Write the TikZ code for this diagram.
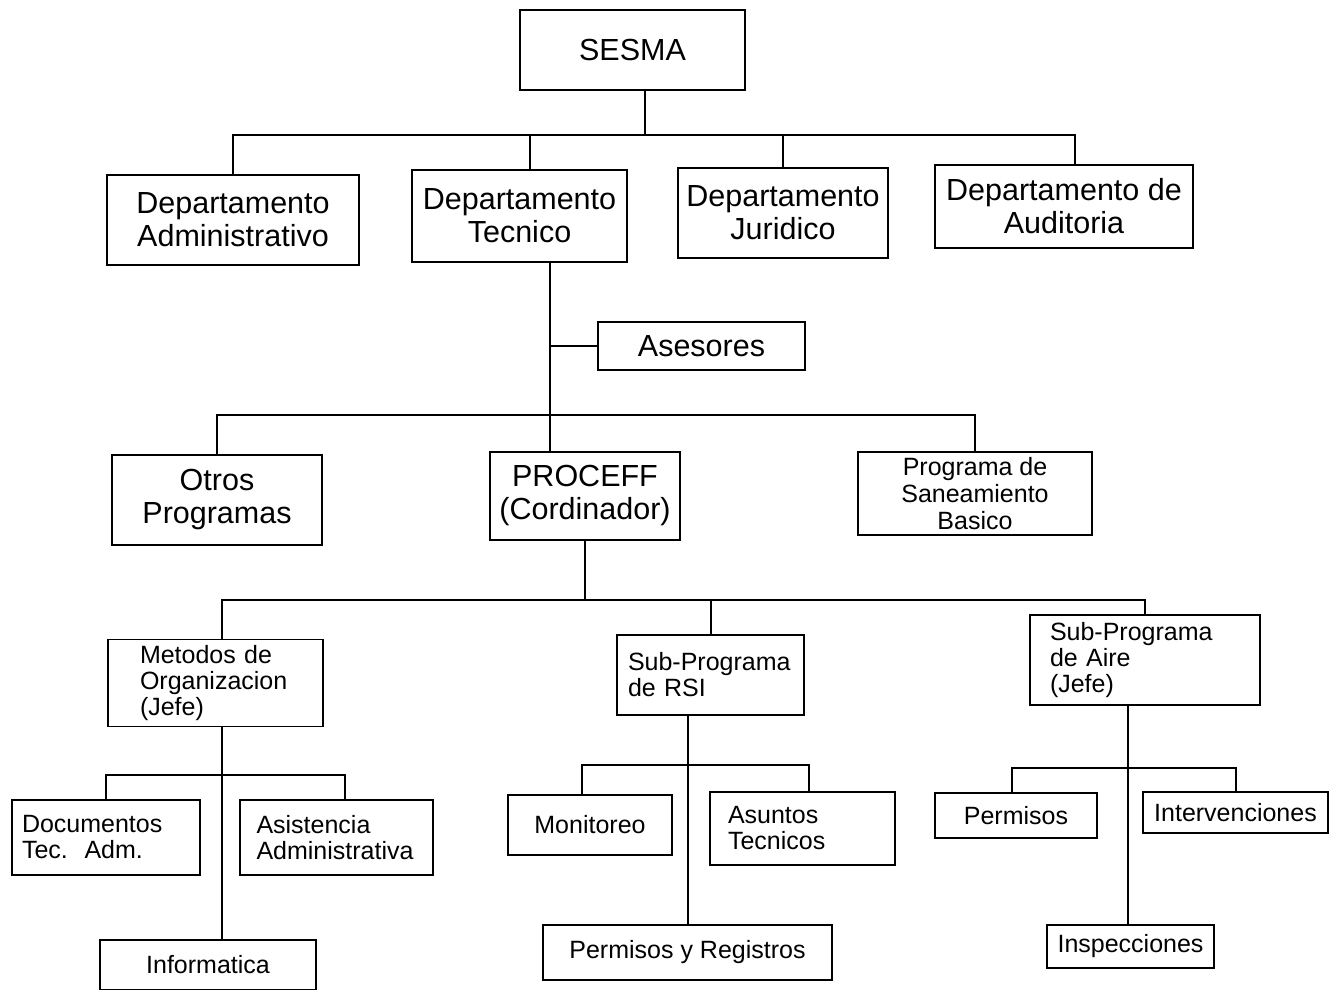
\documentclass[tikz,border=0pt]{standalone}
\usepackage{fontspec}
\setmainfont{Liberation Sans}
\usetikzlibrary{calc}
\begin{document}
\begin{tikzpicture}[x=1pt,y=-1pt,
  box/.style={draw, line width=1.6pt, inner sep=0pt, align=center},
  big/.style={font=\fontsize{30.5}{33}\selectfont},
  mid/.style={font=\fontsize{25}{27}\selectfont},
  small/.style={font=\fontsize{25}{26}\selectfont},
  conn/.style={line width=2pt}]
\useasboundingbox (0,0) rectangle (1338,990);
\fill[white] (0,0) rectangle (1338,990);
% level 0
\node[box,big,minimum width=225pt,minimum height=80pt] (sesma) at (632.5,50) {SESMA};
% level 1
\node[box,big,minimum width=252pt,minimum height=90pt] (adm) at (233,220) {Departamento\\Administrativo};
\node[box,big,minimum width=215pt,minimum height=92pt] (tec) at (519.5,216) {Departamento\\Tecnico};
\node[box,big,minimum width=210pt,minimum height=90pt] (jur) at (783,213) {Departamento\\Juridico};
\node[box,big,minimum width=258pt,minimum height=83pt] (aud) at (1064,206.5) {Departamento de\\Auditoria};
% asesores
\node[box,big,minimum width=207pt,minimum height=48pt] (ase) at (701.5,346) {Asesores};
% level 2
\node[box,big,minimum width=210pt,minimum height=90pt] (otros) at (217,500) {Otros\\Programas};
\node[box,big,minimum width=190pt,minimum height=88pt] (proc) at (585,496) {PROCEFF\\(Cordinador)};
\node[box,mid,minimum width=234pt,minimum height=83pt] (san) at (975,493.5) {Programa de\\Saneamiento\\Basico};
% level 3
\node[box,small,align=left,text width=151pt,minimum width=215pt,minimum height=87pt] (met) at (215.5,683) {Metodos de\\Organizacion\\(Jefe)};
\node[box,small,align=left,text width=165pt,minimum width=187pt,minimum height=80pt] (rsi) at (710.5,675) {Sub-Programa\\de RSI};
\node[box,small,align=left,text width=190pt,minimum width=230pt,minimum height=90pt] (aire) at (1145,660) {Sub-Programa\\de Aire\\(Jefe)};
% level 4
\node[box,small,align=left,text width=168pt,minimum width=188pt,minimum height=75pt] (doc) at (106,837.5) {Documentos\\Tec.\ \ Adm.};
\node[box,small,align=left,text width=160pt,minimum width=193pt,minimum height=75pt] (asi) at (336.5,837.5) {Asistencia\\Administrativa};
\node[box,small,minimum width=216pt,minimum height=50pt] (inf) at (208,965) {Informatica};
\node[box,small,minimum width=164pt,minimum height=60pt] (mon) at (590,825) {Monitoreo};
\node[box,small,align=left,text width=149pt,minimum width=185pt,minimum height=73pt] (asu) at (802.5,828.5) {Asuntos\\Tecnicos};
\node[box,small,minimum width=289pt,minimum height=55pt] (pyr) at (687.5,952.5) {Permisos y Registros};
\node[box,small,minimum width=162pt,minimum height=45pt] (per) at (1016,815.5) {Permisos};
\node[box,small,minimum width=185pt,minimum height=41pt] (int) at (1235.5,812.5) {Intervenciones};
\node[box,small,minimum width=167pt,minimum height=43pt] (ins) at (1130.5,946.5) {Inspecciones};
% bus coordinates
\coordinate (bus1) at (645,135);
\coordinate (bus2) at (550,415);
\coordinate (bus3) at (585,600);
\coordinate (bus4) at (222,775);
\coordinate (bus5) at (688,765);
\coordinate (bus6) at (1128,768);
% connectors level 0-1
\draw[conn] (sesma.south -| bus1) -- (bus1);
\draw[conn] (adm.north) |- (bus1) -| ($(aud.north)+(11,0)$);
\draw[conn] (bus1 -| jur.north) -- (jur.north);
\draw[conn] ($(bus1 -| tec.north)+(10.5,0)$) -- ($(tec.north)+(10.5,0)$);
% tecnico down
\draw[conn] (bus2 |- tec.south) -- (bus2 |- proc.north);
\draw[conn] (bus2 |- ase.west) -- (ase.west);
\draw[conn] (otros.north) |- (bus2) -| (san.north);
% proceff
\draw[conn] (proc.south) -- (bus3);
\draw[conn] (met.north -| bus4) |- (bus3) -| (aire.north);
\draw[conn] (bus3 -| rsi.north) -- (rsi.north);
% metodos
\draw[conn] (bus4 |- met.south) -- (bus4 |- inf.north);
\draw[conn] (doc.north) |- (bus4);
\draw[conn] ($(asi.north)+(8,0)$) |- (bus4);
% rsi
\draw[conn] (bus5 |- rsi.south) -- (bus5 |- pyr.north);
\draw[conn] ($(mon.north)+(-8,0)$) |- (bus5);
\draw[conn] ($(asu.north)+(6,0)$) |- (bus5);
% aire
\draw[conn] (bus6 |- aire.south) -- (bus6 |- ins.north);
\draw[conn] ($(per.north)+(-4,0)$) |- (bus6);
\draw[conn] (int.north) |- (bus6);
\end{tikzpicture}
\end{document}
